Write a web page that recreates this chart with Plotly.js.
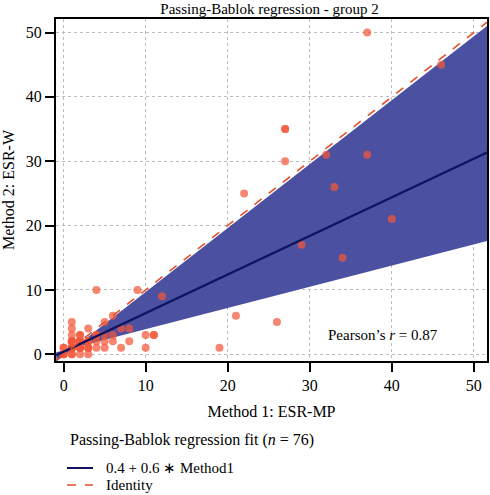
<!DOCTYPE html>
<html>
<head>
<meta charset="utf-8">
<script src="https://cdn.plot.ly/plotly-3.0.1.min.js"></script>
<style>html,body{margin:0;padding:0;background:#fff;}#chart{width:490px;height:495px;}</style>
</head>
<body>
<div id="chart"></div>
<script>
// Observations (Method 1: ESR-MP, Method 2: ESR-W)
const method1 = [37,46,37,32,33,27,27,27,22,29,34,12,40,21,26,19,11,
  1,1,1,1,1,2,2,2,3,3,3,4,5,6,5,6,7,8,7,8,10,10,11,4,9,
  1,1,1,1,2,2,2,2,0,0,0,1,1,0,0,3,3,2,2,4,4,5,3,2,1,2,3,4,6,1,2,5,3,1];
const method2 = [50,45,31,31,26,35,35,30,25,17,15,9,21,6,5,1,3,
  5,4,2,2,2,1,1,1,1,1,4,2,2,2,5,6,1,2,4,4,3,1,3,10,10,
  1,1,1,1,2,2,2,2,0,0,0,0,0,1,1,2,2,3,3,3,3,3,1,1,2,2,2,1,3,3,0,1,0,1];

// Confidence band edges
const bandX = [-0.9, 51.6];
const bandUpper = [-1.15, 51.0];
const bandLower = [0.3, 17.6];

// Fit line (0.4 + 0.6 * Method1) and identity
const fitX = [-0.9, 51.6];
const fitY = [-0.14, 31.36];
const idX = [-0.9, 51.6];
const idY = [-0.9, 51.6];

const xTicks = [0,10,20,30,40,50];
const yTicks = [0,10,20,30,40,50];

const legendTitle = 'Passing-Bablok regression fit (<i>n</i> = 76)';
const fitLabel = '0.4 + 0.6 ∗ Method1';
const idLabel = 'Identity';

const serif = 'Liberation Serif, Times New Roman, serif';
const navy = '#0d1560', red = '#e8502a', bandCol = '#4b50a0';

const traces = [
  {x: bandX, y: bandLower, mode:'lines', line:{width:0, color:bandCol}, showlegend:false, hoverinfo:'skip'},
  {x: bandX, y: bandUpper, mode:'lines', line:{width:0, color:bandCol}, fill:'tonexty', fillcolor:bandCol, showlegend:false, hoverinfo:'skip'},
  {x: method1, y: method2, mode:'markers', marker:{size:8, color:'rgba(242,88,58,0.72)', line:{width:0}}, showlegend:false},
  {x: fitX, y: fitY, mode:'lines', name:fitLabel, line:{color:navy, width:2.2}, showlegend:false},
  {x: idX, y: idY, mode:'lines', name:idLabel, line:{color:red, width:1.6, dash:'dash'}, showlegend:false}
];

const axisCommon = {
  showline:true, mirror:true, linecolor:'#000', linewidth:2,
  ticks:'outside', ticklen:9, tickwidth:2, tickcolor:'#000',
  showgrid:true, gridcolor:'#bdbdbd', gridwidth:1, griddash:'dot',
  zeroline:false, automargin:false, tickfont:{family:serif, size:16, color:'#000'}
};

const M = {l:56, r:3, t:19, b:134};
const plotW = 490 - M.l - M.r, plotH = 495 - M.t - M.b;
const px = v => (v - M.l) / plotW;          // pixel x -> paper x
const py = v => (495 - M.b - v) / plotH;    // pixel y -> paper y

const layout = {
  width:490, height:495,
  margin:M,
  paper_bgcolor:'#fff', plot_bgcolor:'#fff',
  font:{family:serif, color:'#000'},
  showlegend:false,
  title:{text:'Passing-Bablok regression - group 2', font:{family:serif, size:15, color:'#000'},
    x:0.55, xanchor:'center', xref:'container', y:0.982, yanchor:'middle', yref:'container', automargin:false},
  xaxis: Object.assign({}, axisCommon, {range:[-0.93, 51.6], tickvals:xTicks, ticktext:xTicks.map(String),
    title:{text:'Method 1: ESR-MP', font:{family:serif, size:16, color:'#000'}, standoff:13}}),
  yaxis: Object.assign({}, axisCommon, {range:[-1.05, 52.1], tickvals:yTicks, ticktext:yTicks.map(String),
    title:{text:'Method 2: ESR-W', font:{family:serif, size:16, color:'#000'}, standoff:8}}),
  shapes:[
    {type:'line', xref:'paper', yref:'paper', x0:px(67), x1:px(93), y0:py(468), y1:py(468), line:{color:navy, width:2}},
    {type:'line', xref:'paper', yref:'paper', x0:px(67), x1:px(93), y0:py(485), y1:py(485), line:{color:red, width:1.6, dash:'dash'}}
  ],
  annotations:[
    {x:38.9, y:3, xref:'x', yref:'y', text:'Pearson’s <i>r</i> = 0.87', showarrow:false,
     font:{family:serif, size:15, color:'#000'}, xanchor:'center', yanchor:'middle'},
    {x:px(68), y:py(440), xref:'paper', yref:'paper', text:legendTitle, showarrow:false,
     font:{family:serif, size:16, color:'#000'}, xanchor:'left', yanchor:'middle'},
    {x:px(104), y:py(468), xref:'paper', yref:'paper', text:fitLabel, showarrow:false,
     font:{family:serif, size:15, color:'#000'}, xanchor:'left', yanchor:'middle'},
    {x:px(104), y:py(485), xref:'paper', yref:'paper', text:idLabel, showarrow:false,
     font:{family:serif, size:15, color:'#000'}, xanchor:'left', yanchor:'middle'}
  ]
};

Plotly.newPlot('chart', traces, layout, {displayModeBar:false, staticPlot:true});
</script>
</body>
</html>
